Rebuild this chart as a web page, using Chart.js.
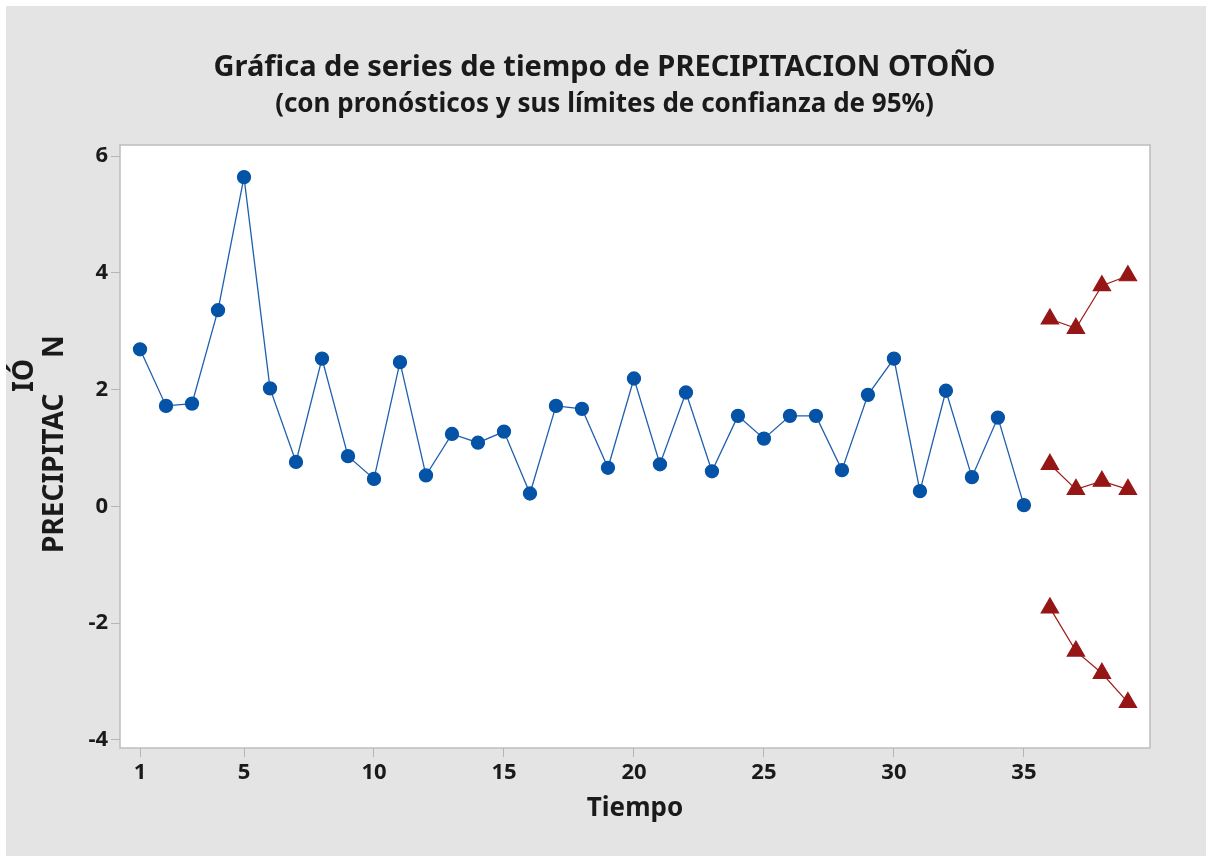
<!DOCTYPE html>
<html>
<head>
<meta charset="utf-8">
<script src="https://cdn.jsdelivr.net/npm/chart.js@4.4.1/dist/chart.umd.min.js"></script>
<style>
  html, body { margin: 0; padding: 0; background: #ffffff; }
  #wrap { width: 1209px; height: 856px; }
</style>
</head>
<body>
<div id="wrap"><canvas id="chart" width="1209" height="856"></canvas></div>
<script>
// precipitacion observada, tiempo 1..35
const precipitacion = [
  2.69, 1.72, 1.76, 3.36, 5.64, 2.02, 0.76, 2.53, 0.86, 0.47,
  2.47, 0.53, 1.24, 1.09, 1.28, 0.22, 1.72, 1.67, 0.66, 2.19,
  0.72, 1.95, 0.60, 1.55, 1.16, 1.55, 1.55, 0.62, 1.91, 2.53,
  0.26, 1.98, 0.50, 1.52, 0.02
];
// pronosticos para tiempo 36..39
const tiempoPronostico = [36, 37, 38, 39];
const pronostico = [0.72, 0.29, 0.43, 0.29];
const limiteSuperior = [3.21, 3.05, 3.78, 3.95];
const limiteInferior = [-1.74, -2.48, -2.86, -3.36];

const xTicks = [1, 5, 10, 15, 20, 25, 30, 35];
const yTicks = [-4, -2, 0, 2, 4, 6];

const FONT = "'Noto Sans', 'Open Sans', sans-serif";
const BLUE = "#0553a6";
const RED = "#961616";

const observed = precipitacion.map((v, i) => ({ x: i + 1, y: v }));
const toPoints = (arr) => arr.map((v, i) => ({ x: tiempoPronostico[i], y: v }));

const frame = {
  id: "frame",
  beforeDraw(chart) {
    const { ctx, chartArea } = chart;
    ctx.save();
    ctx.fillStyle = "#ffffff";
    ctx.fillRect(0, 0, chart.width, chart.height);
    ctx.fillStyle = "#e4e4e4";
    ctx.fillRect(6, 6, chart.width - 9, chart.height - 6);
    ctx.fillStyle = "#ffffff";
    ctx.fillRect(chartArea.left, chartArea.top, chartArea.width, chartArea.height);
    ctx.strokeStyle = "#bdbdbd";
    ctx.lineWidth = 1.5;
    ctx.strokeRect(chartArea.left, chartArea.top, chartArea.width, chartArea.height);
    ctx.restore();
  },
  afterDraw(chart) {
    // y label, split the way the original shows it
    const { ctx } = chart;
    ctx.save();
    ctx.fillStyle = "#1a1a1a";
    ctx.font = "bold 28px " + FONT;
    ctx.textAlign = "left";
    ctx.textBaseline = "alphabetic";
    const put = (text, x, y) => {
      ctx.save();
      ctx.translate(x, y);
      ctx.rotate(-Math.PI / 2);
      ctx.fillText(text, 0, 0);
      ctx.restore();
    };
    put("PRECIPITAC", 63, 553);
    put("N", 63, 358);
    put("IÓ", 33, 392);
    ctx.restore();
  },
};

const ctx = document.getElementById("chart").getContext("2d");
const chart = new Chart(ctx, {
  type: "line",
  data: {
    datasets: [
      {
        label: "PRECIPITACION OTOÑO",
        data: observed,
        borderColor: "#1f5fad",
        borderWidth: 1.3,
        backgroundColor: BLUE,
        pointBackgroundColor: BLUE,
        pointBorderColor: BLUE,
        pointStyle: "circle",
        pointRadius: 6.5,
        tension: 0,
      },
      {
        label: "Límite superior",
        data: toPoints(limiteSuperior),
        borderColor: "#a11a1a",
        borderWidth: 1.2,
        backgroundColor: RED,
        pointBackgroundColor: RED,
        pointBorderColor: RED,
        pointStyle: "triangle",
        pointRadius: 10,
        tension: 0,
      },
      {
        label: "Pronóstico",
        data: toPoints(pronostico),
        borderColor: "#a11a1a",
        borderWidth: 1.2,
        backgroundColor: RED,
        pointBackgroundColor: RED,
        pointBorderColor: RED,
        pointStyle: "triangle",
        pointRadius: 10,
        tension: 0,
      },
      {
        label: "Límite inferior",
        data: toPoints(limiteInferior),
        borderColor: "#a11a1a",
        borderWidth: 1.2,
        backgroundColor: RED,
        pointBackgroundColor: RED,
        pointBorderColor: RED,
        pointStyle: "triangle",
        pointRadius: 10,
        tension: 0,
      },
    ],
  },
  options: {
    responsive: false,
    animation: false,
    layout: {
      padding: { left: 59, right: 59, top: 0, bottom: 0 },
    },
    scales: {
      x: {
        type: "linear",
        min: 0.23,
        max: 39.85,
        afterBuildTicks: (scale) => {
          scale.ticks = xTicks.map((v) => ({ value: v }));
        },
        afterFit: (scale) => {
          scale.height = 108;
        },
        grid: {
          drawOnChartArea: false,
          drawTicks: true,
          tickLength: 9,
          color: "#b5b5b5",
        },
        border: { display: false },
        ticks: {
          padding: 3,
          color: "#1a1a1a",
          font: { family: FONT, size: 22, weight: "bold" },
          maxRotation: 0,
        },
        title: {
          display: true,
          text: "Tiempo",
          color: "#1a1a1a",
          font: { family: FONT, size: 26, weight: "bold" },
          padding: { top: 0, bottom: 32 },
        },
      },
      y: {
        type: "linear",
        min: -4.14,
        max: 6.19,
        afterBuildTicks: (scale) => {
          scale.ticks = yTicks.map((v) => ({ value: v }));
        },
        afterFit: (scale) => {
          scale.width = 61;
        },
        grid: {
          drawOnChartArea: false,
          drawTicks: true,
          tickLength: 9,
          color: "#b5b5b5",
        },
        border: { display: false },
        ticks: {
          padding: 3,
          color: "#1a1a1a",
          font: { family: FONT, size: 22, weight: "bold" },
        },
      },
    },
    plugins: {
      legend: { display: false },
      tooltip: { enabled: false },
      title: {
        display: true,
        text: "Gráfica de series de tiempo de PRECIPITACION OTOÑO",
        color: "#1a1a1a",
        font: { family: FONT, size: 29, weight: "bold" },
        padding: { top: 50, bottom: 0 },
      },
      subtitle: {
        display: true,
        text: "(con pronósticos y sus límites de confianza de 95%)",
        color: "#1a1a1a",
        font: { family: FONT, size: 26, weight: "bold" },
        padding: { top: 4, bottom: 25 },
      },
    },
  },
  plugins: [frame],
});
</script>
</body>
</html>
